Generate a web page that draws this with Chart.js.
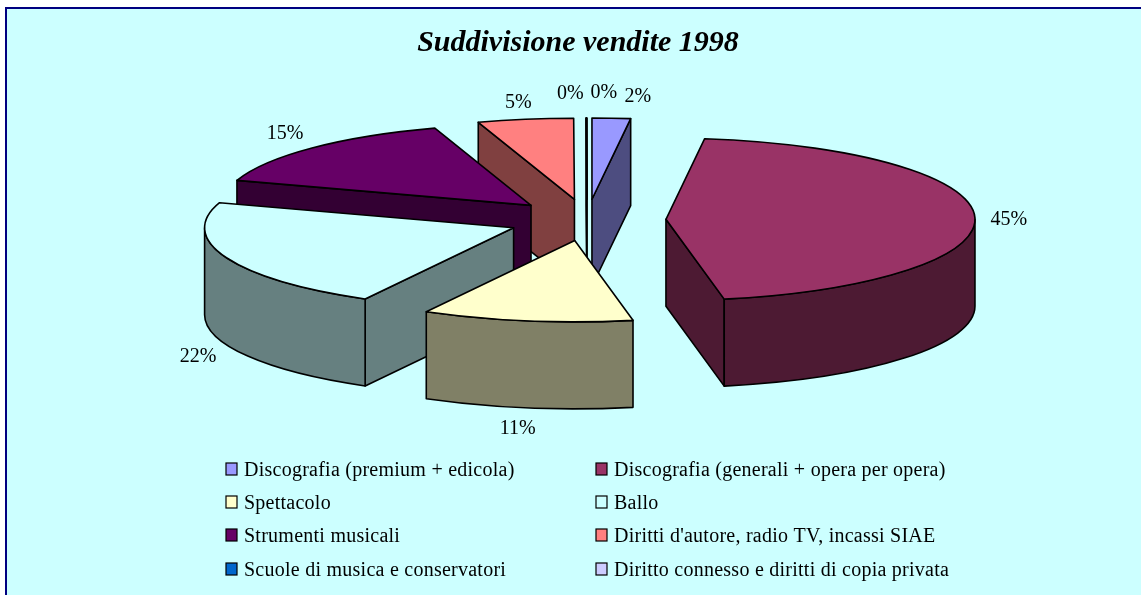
<!DOCTYPE html>
<html>
<head>
<meta charset="utf-8">
<style>html,body{margin:0;padding:0;background:#fff;overflow:hidden}canvas{display:block}</style>
<script src="https://cdn.jsdelivr.net/npm/chart.js@4"></script>
</head>
<body>
<div style="width:1141px;height:595px"><canvas id="c" width="1141" height="595"></canvas></div>
<script>
const categories = [
  "Discografia (premium + edicola)",
  "Discografia (generali + opera per opera)",
  "Spettacolo",
  "Ballo",
  "Strumenti musicali",
  "Diritti d'autore, radio TV, incassi SIAE",
  "Scuole di musica e conservatori",
  "Diritto connesso e diritti di copia privata"
];
// The two "0%" slices are hairline wedges in the picture
const salesShare = [2, 45, 11, 22, 15, 5, 0.02, 0.02];
const sliceColors = ["#9999FF","#993366","#FFFFCC","#CCFFFF","#660066","#FF8080","#0066CC","#CCCCFF"];
const chartTitle = "Suddivisione vendite 1998";

// 3D look of the pie
const CX = 587, CY = 220, RADIUS = 309, TILT = 0.263, DEPTH = 87, EXPLODE = 79;
const SERIF = '"Liberation Serif","Times New Roman",serif';
const LABEL_NUDGE = [[26.5,-21],[34,3.5],[-9,21],[-28.5,11.6],[-27,-14],[-7,-17],[-16,-24],[17,-25]];

function shade(hex){
  const n = parseInt(hex.slice(1),16);
  const c = [n>>16,(n>>8)&255,n&255].map(v=>Math.round(v/2));
  return `rgb(${c[0]},${c[1]},${c[2]})`;
}

const pie3d = {
  id:'pie3d',
  beforeDraw(chart){
    const {ctx,width,height} = chart;
    ctx.save();
    ctx.fillStyle='#FFFFFF'; ctx.fillRect(0,0,width,height);
    ctx.fillStyle='#CCFFFF'; ctx.fillRect(5,7,width-5,height-7);
    ctx.fillStyle='#000080'; ctx.fillRect(5,7,width-5,2); ctx.fillRect(5,7,2,height-7);
    ctx.restore();
  },
  beforeDatasetsDraw(chart){
    const {ctx} = chart;
    const arcs = chart.getDatasetMeta(0).data;
    const items = arcs.map((arc,i)=>{
      const mid=(arc.startAngle+arc.endAngle)/2;
      return {arc,i,mid,
        ax:CX+EXPLODE*Math.cos(mid), ay:CY+EXPLODE*TILT*Math.sin(mid)};
    });
    const order = items.slice().sort((a,b)=>a.ay-b.ay);
    ctx.save();
    ctx.lineWidth=1.6; ctx.strokeStyle='#000'; ctx.lineJoin='round';
    for(const it of order){
      const {arc,ax,ay,i}=it, t0=arc.startAngle, t1=arc.endAngle;
      const pt=t=>[ax+RADIUS*Math.cos(t), ay+RADIUS*TILT*Math.sin(t)];
      ctx.fillStyle=shade(sliceColors[i]);
      const face=t=>{
        const p=pt(t);
        ctx.beginPath(); ctx.moveTo(ax,ay); ctx.lineTo(p[0],p[1]);
        ctx.lineTo(p[0],p[1]+DEPTH); ctx.lineTo(ax,ay+DEPTH); ctx.closePath();
        ctx.fill(); ctx.stroke();
      };
      if(Math.cos(t0)<0) face(t0);
      if(Math.cos(t1)>0) face(t1);
      const lo=Math.max(t0,0), hi=Math.min(t1,Math.PI);
      if(lo<hi){
        const a=pt(lo), b=pt(hi);
        ctx.beginPath();
        ctx.ellipse(ax,ay,RADIUS,RADIUS*TILT,0,lo,hi);
        ctx.lineTo(b[0],b[1]+DEPTH);
        ctx.ellipse(ax,ay+DEPTH,RADIUS,RADIUS*TILT,0,hi,lo,true);
        ctx.lineTo(a[0],a[1]);
        ctx.closePath(); ctx.fill(); ctx.stroke();
      }
      // top surface, drawn by the library's own arc element
      ctx.save();
      ctx.translate(ax,ay); ctx.scale(1,TILT); ctx.translate(-arc.x,-arc.y);
      arc.draw(ctx);
      ctx.restore();
      ctx.beginPath(); ctx.moveTo(ax,ay);
      ctx.ellipse(ax,ay,RADIUS,RADIUS*TILT,0,t0,t1);
      ctx.closePath(); ctx.stroke();
    }
    ctx.restore();
    return false;
  },
  afterDraw(chart){
    const {ctx} = chart;
    const arcs = chart.getDatasetMeta(0).data;
    ctx.save();
    ctx.fillStyle='#000';
    ctx.font='20px '+SERIF;
    ctx.textAlign='center'; ctx.textBaseline='middle';
    arcs.forEach((arc,i)=>{
      const m=(arc.startAngle+arc.endAngle)/2, R=EXPLODE+RADIUS;
      const s=Math.sin(m);
      const x=CX+R*Math.cos(m)+LABEL_NUDGE[i][0];
      const y=CY+R*TILT*s+(s>0?DEPTH:0)+LABEL_NUDGE[i][1];
      ctx.fillText(Math.round(salesShare[i])+'%',x,y);
    });
    // two-column legend, row by row
    const rows=[469,502,535,569], cols=[226,596];
    ctx.textAlign='left';
    ctx.letterSpacing='0.25px';
    categories.forEach((label,i)=>{
      const x=cols[i%2], y=rows[Math.floor(i/2)];
      ctx.fillStyle=sliceColors[i];
      ctx.fillRect(x,y-6,11,12);
      ctx.strokeStyle='#000'; ctx.lineWidth=1.2;
      ctx.strokeRect(x,y-6,11,12);
      ctx.fillStyle='#000';
      ctx.fillText(label,x+18,y+2);
    });
    ctx.restore();
  }
};

new Chart(document.getElementById('c'),{
  type:'pie',
  data:{labels:categories,datasets:[{data:salesShare,backgroundColor:sliceColors,borderWidth:0}]},
  options:{
    responsive:false,animation:false,events:[],
    radius:RADIUS,
    layout:{padding:{left:15,right:0,top:0,bottom:0}},
    plugins:{
      legend:{display:false},tooltip:{enabled:false},
      title:{display:true,text:chartTitle,fullSize:false,color:'#000',
        font:{family:SERIF,size:30,style:'italic',weight:'bold'},
        padding:{top:25,bottom:10}}
    }
  },
  plugins:[pie3d]
});
</script>
</body>
</html>
